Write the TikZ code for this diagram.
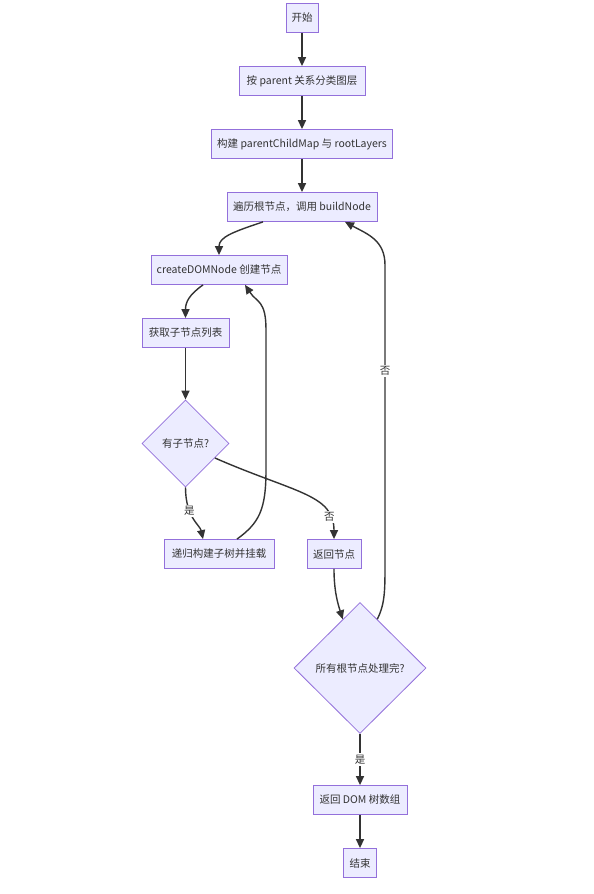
\documentclass[tikz,border=0pt]{standalone}
\usepackage{fontspec}
\setmainfont{Noto Sans CJK SC}
\usetikzlibrary{shapes.geometric,arrows.meta,calc}
\definecolor{boxfill}{HTML}{ECECFF}
\definecolor{boxline}{HTML}{9370DB}
\definecolor{edge}{HTML}{333333}
\tikzset{
  box/.style={draw=boxline,fill=boxfill,line width=0.8pt,minimum height=29pt,inner xsep=2pt,inner ysep=0pt,font=\fontsize{10.5}{12}\selectfont,text=edge},
  dia/.style={diamond,aspect=1,draw=boxline,fill=boxfill,line width=0.8pt,inner sep=0pt,font=\fontsize{10.5}{12}\selectfont,text=edge},
  conn/.style={draw=edge,line width=1.4pt,-{Triangle[length=9pt,width=8pt]}},
  elabel/.style={fill=white,inner sep=1.5pt,font=\fontsize{10.5}{12}\selectfont,text=edge}
}
\begin{document}
\begin{tikzpicture}[x=1pt,y=-1pt]
\useasboundingbox[fill=white] (0,0) rectangle (594,894);
\node[box,minimum width=32pt] (start) at (302,18) {开始};
\node[box,minimum width=126pt] (group) at (302,81) {按 parent 关系分类图层};
\node[box,minimum width=181pt] (build) at (302,144) {构建 parentChildMap 与 rootLayers};
\node[box,minimum width=150pt] (trav) at (302,207) {遍历根节点，调用 buildNode};
\node[box,minimum width=136pt] (create) at (219,270) {createDOMNode 创建节点};
\node[box,minimum width=87pt] (getc) at (185.5,333) {获取子节点列表};
\node[dia,minimum width=87pt,minimum height=87pt] (has) at (185.5,443.5) {有子节点?};
\node[box,minimum width=110pt] (rec) at (219,554) {递归构建子树并挂载};
\node[box,minimum width=54pt] (ret) at (334,554) {返回节点};
\node[dia,minimum width=132pt,minimum height=131pt] (all) at (360,668) {所有根节点处理完?};
\node[box,minimum width=94pt] (retdom) at (360,800) {返回 DOM 树数组};
\node[box,minimum width=33pt] (fin) at (360,863) {结束};

\draw[conn] (start) -- (group);
\draw[conn] (group) -- (build);
\draw[conn] (build) -- (trav);
\draw[conn] ([xshift=-39pt]trav.south) .. controls +(-30,10) and +(0,-18) .. (create.north);
\draw[conn] ([xshift=-16pt]create.south) .. controls +(-14,10) and +(0,-16) .. (getc.north);
\draw[conn] (getc) -- (has);
\draw[conn] (has.south) .. controls +(0,30) and +(-3,-14) .. node[elabel,pos=0.33] {是} ([xshift=-16pt]rec.north);
\draw[conn] ($(has.east)!0.33!(has.south)$) .. controls +(80,35) and +(0,-45) .. node[elabel,pos=0.8] {否} (ret.north);
\draw[conn] ([xshift=18pt]rec.north) .. controls +(22,-16) and +(0,40) .. (266,470) -- (266,330) .. controls +(0,-30) and +(12,18) .. ([xshift=26pt]create.south);
\draw[conn] (ret.south) .. controls +(0,22) and +(-5,-16) .. ($(all.north)!0.26!(all.west)$);
\draw[conn] ($(all.north)!0.26!(all.east)$) .. controls +(8,-16) and +(0,30) .. (385,560) -- node[elabel,pos=0.64] {否} (385,265) .. controls +(0,-25) and +(22,12) .. ([xshift=43pt]trav.south);
\draw[conn] (all.south) -- node[elabel,pos=0.5] {是} (retdom.north);
\draw[conn] (retdom) -- (fin);
\end{tikzpicture}
\end{document}
